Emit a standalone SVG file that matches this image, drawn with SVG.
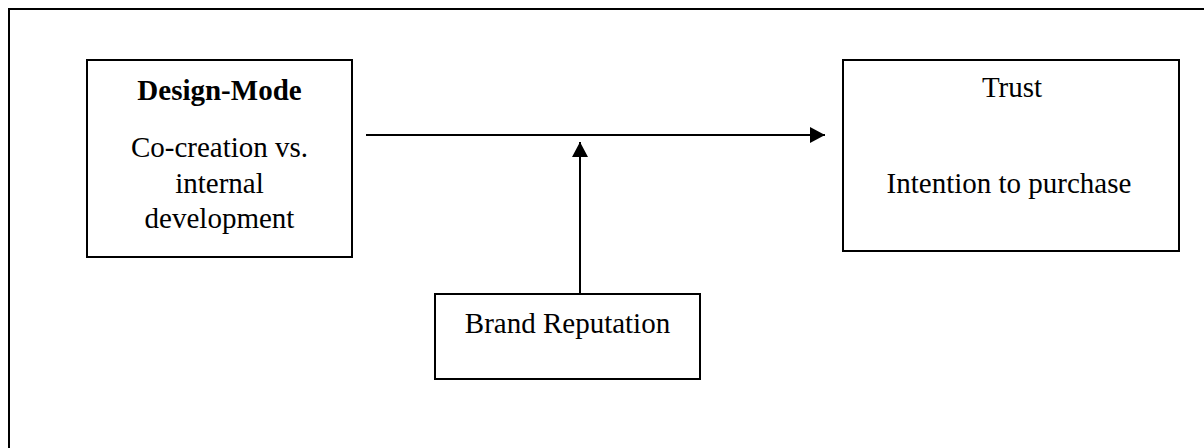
<svg xmlns="http://www.w3.org/2000/svg" width="1204" height="448" viewBox="0 0 1204 448">
<style>
.box{fill:#fff;stroke:#000;stroke-width:2}
.t{font-family:"Liberation Serif","Times New Roman",serif;font-size:29px;fill:#000;text-anchor:middle}
.b{font-weight:bold}
.ln{stroke:#000;stroke-width:2;fill:none}
</style>
<defs>
<marker id="ah" markerWidth="16" markerHeight="16" refX="15" refY="8" orient="auto" markerUnits="userSpaceOnUse">
<path d="M0,0 L15,8 L0,16 Z" fill="#000"/>
</marker>
</defs>
<rect width="1204" height="448" fill="#fff"/>
<rect x="9" y="9" width="1220" height="460" fill="none" stroke="#000" stroke-width="2"/>
<g id="design-mode">
<rect class="box" x="87" y="60" width="265" height="197"/>
<text class="t b" x="219.5" y="100">Design-Mode</text>
<text class="t" x="219.5" y="157">Co-creation vs.</text>
<text class="t" x="219.5" y="193">internal</text>
<text class="t" x="219.5" y="228">development</text>
</g>
<g id="trust">
<rect class="box" x="843" y="60" width="336" height="191"/>
<text class="t" x="1012" y="97">Trust</text>
<text class="t" x="1009" y="193">Intention to purchase</text>
</g>
<g id="brand-reputation">
<rect class="box" x="435" y="294" width="265" height="85"/>
<text class="t" x="567.5" y="333">Brand Reputation</text>
</g>
<g id="connectors">
<line class="ln" x1="366" y1="135" x2="825" y2="135" marker-end="url(#ah)"/>
<line class="ln" x1="580" y1="294" x2="580" y2="142" marker-end="url(#ah)"/>
</g>
</svg>
